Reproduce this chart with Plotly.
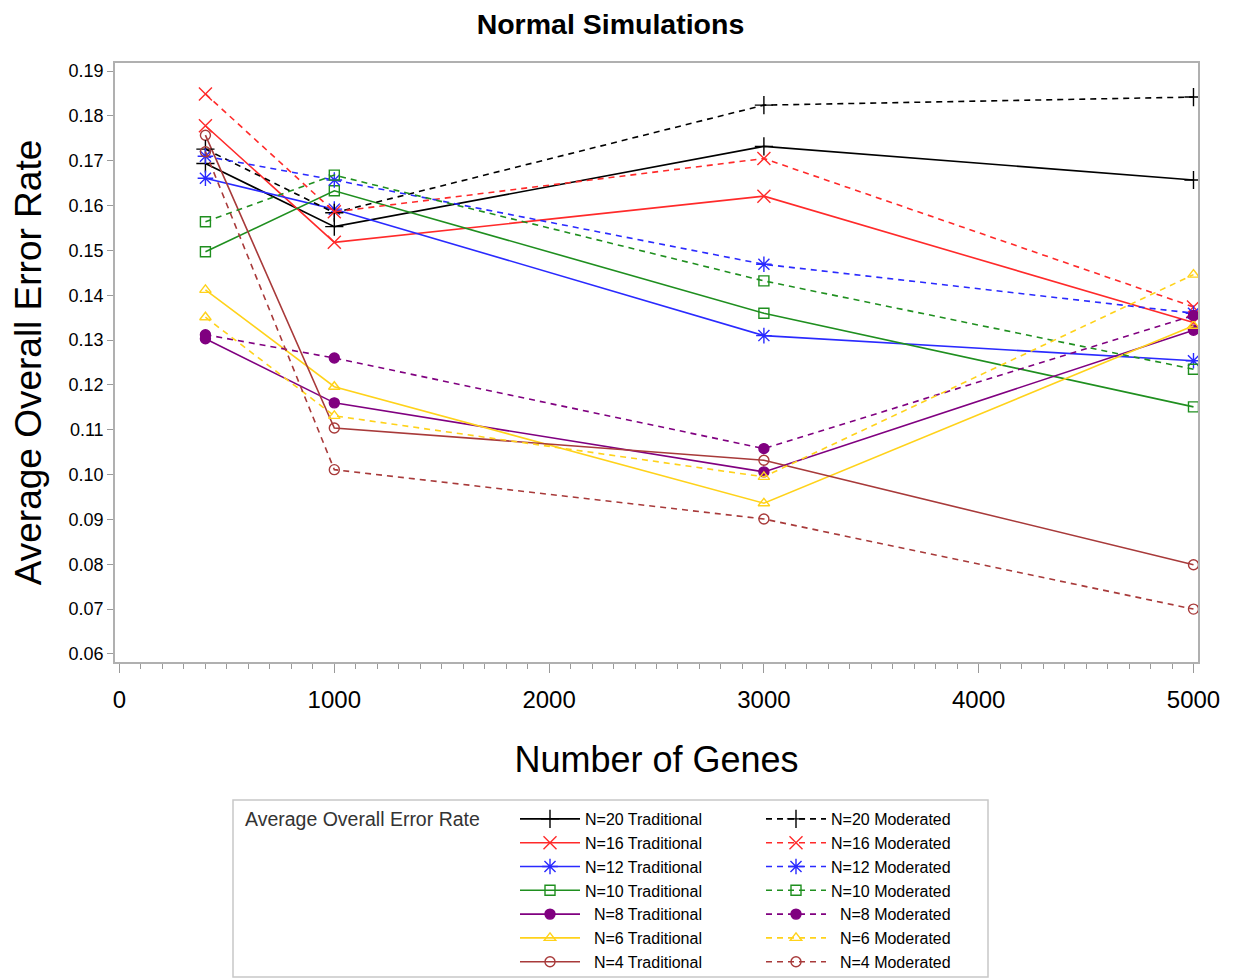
import plotly.graph_objects as go

genes = [400, 1000, 3000, 5000]

series_names = ["N=20", "N=16", "N=12", "N=10", "N=8", "N=6", "N=4"]

traditional = {
    "N=20": [0.1694, 0.1553, 0.1732, 0.1657],
    "N=16": [0.1778, 0.1518, 0.1621, 0.1339],
    "N=12": [0.1661, 0.1592, 0.1310, 0.1254],
    "N=10": [0.1497, 0.1633, 0.1360, 0.1151],
    "N=8":  [0.1303, 0.1160, 0.1006, 0.1322],
    "N=6":  [0.1412, 0.1196, 0.0936, 0.1332],
    "N=4":  [0.1757, 0.1104, 0.1032, 0.0799],
}
moderated = {
    "N=20": [0.1726, 0.1584, 0.1824, 0.1842],
    "N=16": [0.1849, 0.1586, 0.1705, 0.1374],
    "N=12": [0.1710, 0.1657, 0.1469, 0.1360],
    "N=10": [0.1564, 0.1668, 0.1432, 0.1235],
    "N=8":  [0.1312, 0.1260, 0.1058, 0.1355],
    "N=6":  [0.1351, 0.1131, 0.0995, 0.1446],
    "N=4":  [0.1720, 0.1011, 0.0901, 0.0700],
}

colors = {
    "N=20": "#000000", "N=16": "#FF2A2A", "N=12": "#2A2AFF", "N=10": "#1F8F1F",
    "N=8": "#800080", "N=6": "#FFD21A", "N=4": "#A83A3A",
}
symbols = {
    "N=20": "cross-thin-open", "N=16": "x-thin-open", "N=12": "asterisk-open",
    "N=10": "square-open", "N=8": "circle", "N=6": "triangle-up-open", "N=4": "circle-open",
}

FONT = "Liberation Sans, Arial, sans-serif"

fig = go.Figure()
for kind, data, dash, leg in [("Traditional", traditional, "solid", "legend"),
                              ("Moderated", moderated, "6px,5px", "legend2")]:
    for n in series_names:
        sym = symbols[n]
        msize = 13 if sym in ("cross-thin-open", "x-thin-open", "asterisk-open") else 10
        pad = "\u00a0\u00a0" if len(n) == 3 else ""  # right-align single-digit labels
        fig.add_trace(go.Scatter(
            x=genes, y=data[n], mode="lines+markers",
            name=f"{pad}{n} {kind}", legend=leg,
            line=dict(color=colors[n], width=1.6, dash=dash),
            marker=dict(symbol=sym, size=msize, color=colors[n],
                        line=dict(color=colors[n], width=1.4)),
        ))

# page body has an 8px margin, so the figure is drawn 8px smaller
W, H = 1225, 971

fig.update_layout(
    width=W, height=H,
    margin=dict(l=107, r=35, t=55, b=317, autoexpand=False),
    paper_bgcolor="white", plot_bgcolor="white",
    font=dict(family=FONT, color="#000000"),
    title=dict(text="<b>Normal Simulations</b>", x=0.4918, xref="container", xanchor="center",
               y=1 - 16 / H, yref="container", yanchor="middle",
               font=dict(size=28.5, family=FONT, color="#000000")),
    xaxis=dict(range=[-21, 5021], tickvals=[0, 1000, 2000, 3000, 4000, 5000],
               ticks="outside", ticklen=9, tickcolor="#9a9a9a", automargin=False,
               minor=dict(dtick=100, ticks="outside", ticklen=5, tickcolor="#9a9a9a"),
               showline=True, linecolor="#b0b0b0", linewidth=1.5, mirror=True,
               showgrid=False, zeroline=False,
               tickfont=dict(size=24, family=FONT), ticklabelstandoff=6,
               title=dict(text="Number of Genes", font=dict(size=36, family=FONT), standoff=35)),
    yaxis=dict(range=[0.0582, 0.1918], tickvals=[0.06 + 0.01 * i for i in range(14)],
               tickformat=".2f", ticks="outside", ticklen=6, tickcolor="#9a9a9a", automargin=False,
               showline=True, linecolor="#b0b0b0", linewidth=1.5, mirror=True,
               showgrid=False, zeroline=False,
               tickfont=dict(size=18, family=FONT),
               title=dict(text="Average Overall Error Rate", font=dict(size=37, family=FONT), standoff=19)),
    showlegend=True,
    legend=dict(x=(515 - 115) / 1083, y=(662 - 802) / 599, xanchor="left", yanchor="top",
                orientation="v", bgcolor="rgba(0,0,0,0)", itemwidth=60,
                font=dict(size=16, family=FONT), tracegroupgap=0, itemclick=False),
    legend2=dict(x=(761 - 115) / 1083, y=(662 - 802) / 599, xanchor="left", yanchor="top",
                 orientation="v", bgcolor="rgba(0,0,0,0)", itemwidth=60,
                 font=dict(size=16, family=FONT), tracegroupgap=0, itemclick=False),
    shapes=[dict(type="rect", xref="paper", yref="paper",
                 x0=(233 - 115) / 1083, x1=(988 - 115) / 1083,
                 y0=(662 - 800) / 599, y1=(662 - 977) / 599,
                 line=dict(color="#c8c8c8", width=1.5), fillcolor="rgba(0,0,0,0)")],
    annotations=[dict(text="Average Overall Error Rate", xref="paper", yref="paper",
                      x=(243 - 115) / 1083, y=(662 - 819) / 599, xanchor="left", yanchor="middle",
                      showarrow=False, font=dict(size=19.5, family=FONT, color="#333333"))],
)

fig.write_html("out.html")
